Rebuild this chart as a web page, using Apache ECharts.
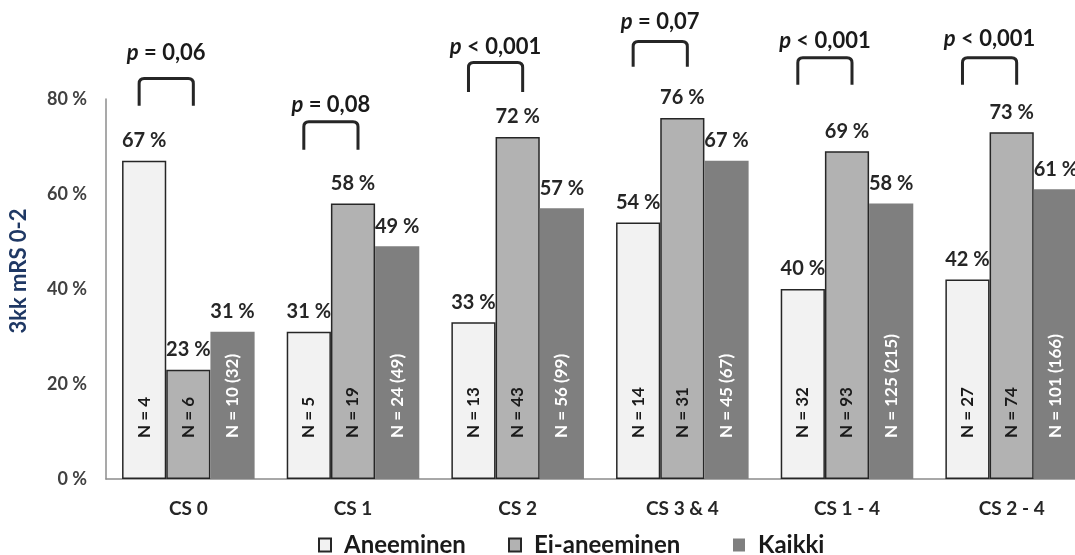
<!DOCTYPE html>
<html>
<head>
<meta charset="utf-8">
<script src="https://cdn.jsdelivr.net/npm/echarts@6/dist/echarts.min.js"></script>
<style>
html,body{margin:0;padding:0;background:#fff;}
#chart{width:1075px;height:555px;}
</style>
</head>
<body>
<div id="chart"></div>
<script>
// ---- data ----
var categories = ['CS 0', 'CS 1', 'CS 2', 'CS 3 & 4', 'CS 1 - 4', 'CS 2 - 4'];
var seriesNames = ['Aneeminen', 'Ei-aneeminen', 'Kaikki'];
var aneeminen = [67, 31, 33, 54, 40, 42];
var eiAneeminen = [23, 58, 72, 76, 69, 73];
var kaikki = [31, 49, 57, 67, 58, 61];
var nAneeminen = ['N = 4', 'N = 5', 'N = 13', 'N = 14', 'N = 32', 'N = 27'];
var nEiAneeminen = ['N = 6', 'N = 19', 'N = 43', 'N = 31', 'N = 93', 'N = 74'];
var nKaikki = ['N = 10 (32)', 'N = 24 (49)', 'N = 56 (99)', 'N = 45 (67)', 'N = 125 (215)', 'N = 101 (166)'];
var pValues = ['= 0,06', '= 0,08', '< 0,001', '= 0,07', '< 0,001', '< 0,001'];
// bracket levels (in axis % units)
var bracketLow = [78.6, 69.3, 81.5, 86.8, 83.0, 83.0];
var bracketHigh = [84.3, 75.2, 87.7, 92.1, 88.7, 88.7];
var pTextLevel = [89.6, 78.8, 91.0, 96.3, 92.3, 92.7];
var yTicks = [0, 20, 40, 60, 80];

var FONT = 'Lato';
var CAT_GAP = 0.195;
var colors = ['#f2f2f2', '#b2b2b2', '#7f7f7f'];

var chart = echarts.init(document.getElementById('chart'));

function mainBar(name, data, color, bordered) {
  return {
    name: name,
    type: 'bar',
    xAxisIndex: 0,
    data: data,
    barGap: '0%',
    barCategoryGap: (CAT_GAP * 100) + '%',
    itemStyle: {
      color: color,
      borderColor: bordered ? '#262626' : color,
      borderWidth: bordered ? 1.5 : 0
    },
    label: {
      show: true,
      position: 'top',
      distance: 10,
      formatter: '{c} %',
      fontFamily: FONT,
      fontWeight: 'bold',
      fontSize: 20,
      color: '#262626'
    },
    z: 2
  };
}
function nBar(id, data, labels, color) {
  return {
    name: id,
    type: 'bar',
    xAxisIndex: 1,
    data: data,
    barGap: '0%',
    barCategoryGap: (CAT_GAP * 100) + '%',
    silent: true,
    itemStyle: { color: 'rgba(0,0,0,0)' },
    label: {
      show: true,
      position: 'insideBottom',
      distance: 41,
      rotate: 90,
      align: 'left',
      verticalAlign: 'middle',
      formatter: function (p) { return labels[p.dataIndex]; },
      fontFamily: FONT,
      fontWeight: 'bold',
      fontSize: 17,
      color: color
    },
    z: 5
  };
}

var bracketData = categories.map(function (c, i) {
  return [i, bracketLow[i], bracketHigh[i], pTextLevel[i], i];
});

var option = {
  animation: false,
  backgroundColor: '#ffffff',
  grid: { left: 106, top: 99, bottom: 76, width: 988, containLabel: false, outerBoundsMode: 'none' },
  legend: [
    { data: ['Aneeminen'], left: 318 },
    { data: ['Ei-aneeminen'], left: 508 },
    { data: ['Kaikki'], left: 733 }
  ].map(function (l) {
    return {
      data: l.data, left: l.left, top: 533, padding: 0,
      icon: 'rect', itemWidth: 12, itemHeight: 13,
      selectedMode: false,
      textStyle: { fontFamily: FONT, fontWeight: 'bold', fontSize: 24, color: '#1a1a1a', padding: [0, 0, 0, 8] }
    };
  }),
  xAxis: [
    {
      type: 'category',
      data: categories,
      axisLine: { show: true, lineStyle: { color: '#8c8c8c', width: 1.5 } },
      axisTick: { show: false },
      axisLabel: { fontFamily: FONT, fontWeight: 'bold', fontSize: 19, color: '#262626', margin: 20 },
      splitLine: { show: false }
    },
    {
      type: 'category',
      data: categories,
      show: false
    }
  ],
  yAxis: {
    type: 'value',
    min: yTicks[0],
    max: yTicks[yTicks.length - 1],
    interval: yTicks[1] - yTicks[0],
    name: '3kk mRS 0-2',
    nameLocation: 'middle',
    nameGap: 76,
    nameTextStyle: { fontFamily: FONT, fontWeight: 'bold', fontSize: 22, color: '#1f3864', padding: [0, 0, 0, 36] },
    axisLine: { show: true, lineStyle: { color: '#8c8c8c', width: 1.5 } },
    axisTick: { show: false },
    splitLine: { show: false },
    axisLabel: { formatter: '{value} %', fontFamily: FONT, fontWeight: 'bold', fontSize: 18, color: '#404040', margin: 19 }
  },
  series: [
    mainBar(seriesNames[0], aneeminen, colors[0], true),
    mainBar(seriesNames[1], eiAneeminen, colors[1], true),
    mainBar(seriesNames[2], kaikki, colors[2], false),
    nBar('nA', aneeminen, nAneeminen, '#1a1a1a'),
    nBar('nE', eiAneeminen, nEiAneeminen, '#1a1a1a'),
    nBar('nK', kaikki, nKaikki, '#ffffff'),
    {
      name: 'pvals',
      type: 'custom',
      xAxisIndex: 0,
      yAxisIndex: 0,
      clip: false,
      silent: true,
      data: bracketData,
      encode: { x: 0, y: 1 },
      renderItem: function (params, api) {
        var cat = api.value(0);
        var catW = api.size([1, 0])[0];
        var bw = catW * (1 - CAT_GAP) / 3;
        var pl = api.coord([cat, api.value(1)]);
        var yTop = api.coord([cat, api.value(2)])[1];
        var yText = api.coord([cat, api.value(3)])[1];
        var x1 = pl[0] - bw - 5, x2 = pl[0] + 5, yLow = pl[1], r = 5;
        var path = 'M' + x1 + ' ' + yLow + ' L' + x1 + ' ' + (yTop + r) +
          ' Q' + x1 + ' ' + yTop + ' ' + (x1 + r) + ' ' + yTop +
          ' L' + (x2 - r) + ' ' + yTop +
          ' Q' + x2 + ' ' + yTop + ' ' + x2 + ' ' + (yTop + r) +
          ' L' + x2 + ' ' + yLow;
        var idx = api.value(4);
        return {
          type: 'group',
          children: [
            {
              type: 'path',
              shape: { pathData: path },
              style: { fill: null, stroke: '#262626', lineWidth: 3, lineJoin: 'round', lineCap: 'butt' }
            },
            {
              type: 'text',
              style: {
                x: (x1 + x2) / 2,
                y: yText,
                text: '{i|p} ' + pValues[idx],
                align: 'center',
                verticalAlign: 'middle',
                fill: '#1a1a1a',
                font: 'bold 22px ' + FONT,
                rich: {
                  i: { fontStyle: 'italic', fontWeight: 'bold', fontSize: 22, fontFamily: FONT, fill: '#1a1a1a' }
                }
              }
            }
          ]
        };
      },
      z: 10
    }
  ]
};
chart.setOption(option);
</script>
</body>
</html>
